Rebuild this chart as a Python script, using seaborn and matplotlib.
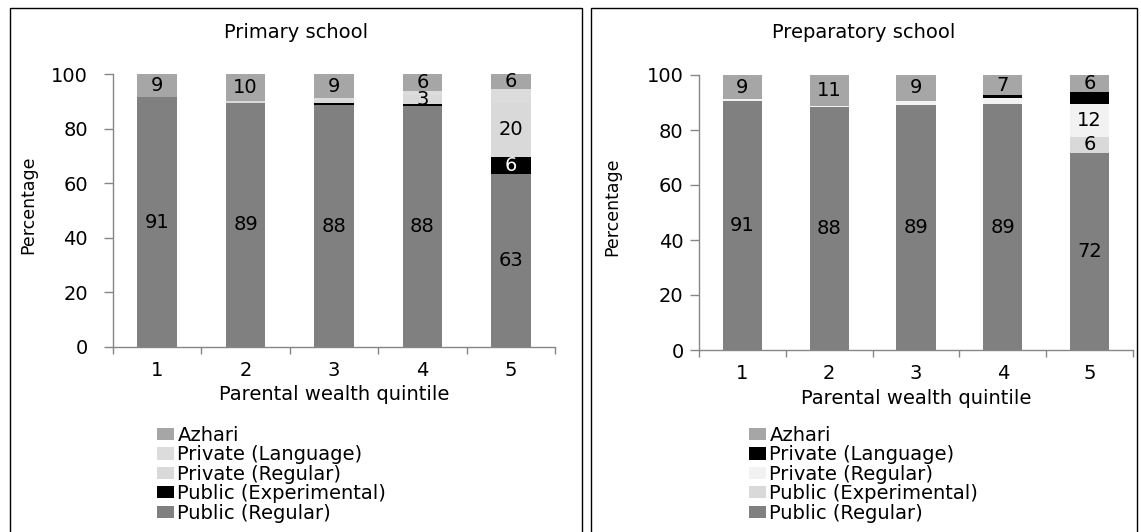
import matplotlib
matplotlib.use('Agg')
import numpy as np
import pandas as pd
import seaborn as sns
import matplotlib.pyplot as plt
from matplotlib.patches import Patch, Rectangle

## ---------------- data (percent) ----------------
quintiles = ['1', '2', '3', '4', '5']
series    = ['Public (Regular)', 'Public (Experimental)', 'Private (Regular)',
             'Private (Language)', 'Azhari']          # bottom -> top

prim_public_reg  = [91.4, 89.4, 88.5, 88.2, 63.3]
prim_public_exp  = [0.0, 0.0, 0.8, 0.9, 6.2]
prim_private_reg = [0.0, 0.6, 1.0, 3.2, 20.0]
prim_private_lan = [0.0, 0.0, 0.8, 1.6, 4.9]
prim_azhari      = [8.6, 10.0, 8.9, 6.1, 5.6]

prep_public_reg  = [90.6, 88.3, 89.1, 89.4, 71.8]
prep_public_exp  = [0.0, 0.0, 0.0, 0.0, 5.7]
prep_private_reg = [0.5, 0.5, 1.5, 2.2, 12.1]
prep_private_lan = [0.0, 0.0, 0.0, 1.1, 4.3]
prep_azhari      = [8.9, 11.2, 9.4, 7.3, 6.1]

prim_colors = ['#808080', '#000000', '#d9d9d9', '#dcdcdc', '#a6a6a6']
prep_colors = ['#808080', '#d9d9d9', '#f2f2f2', '#000000', '#a6a6a6']
no_label    = 'Private (Language)'

sns.set_style('white')
plt.rcParams['font.family'] = ['DejaVu Sans']
plt.rcParams['text.color'] = 'black'
plt.rcParams['xtick.labelcolor'] = 'black'
plt.rcParams['ytick.labelcolor'] = 'black'

W, H = 1141, 532
fig = plt.figure(figsize=(W/100, H/100), dpi=100)

def fx(px): return px / W
def fy(py): return 1 - py / H

def draw_panel(ax, title, vals, colors, box, ypad, xl_y, yl_x, leg_x):
  df = pd.DataFrame({'quintile': np.repeat(quintiles, len(series)),
                     'series': series * len(quintiles),
                     'value': np.array(vals).T.ravel()})
  df['series'] = pd.Categorical(df['series'], series, ordered=True)
  df = df.sort_values(['quintile', 'series'])
  df['cum'] = df.groupby('quintile')['value'].cumsum()

  ## overlay cumulative bars, top series first
  for s, c in reversed(list(zip(series, colors))):
    sub = df[df['series'] == s]
    sns.barplot(data=sub, x='quintile', y='cum', order=quintiles, color=c,
                saturation=1, width=0.45, errorbar=None, ax=ax, linewidth=0)

  ## data labels
  for _, r in df.iterrows():
    if r['series'] == no_label or r['value'] < 2.5:
      continue
    i = quintiles.index(r['quintile'])
    c = colors[series.index(r['series'])]
    ax.text(i, r['cum'] - r['value']/2, '{0:.0f}'.format(r['value']),
            ha='center', va='center', fontsize=14,
            color='white' if c == '#000000' else 'black')

  ax.set_ylim(0, 100)
  ax.set_xlim(-0.5, 4.5)
  ax.set_yticks(range(0, 101, 20))
  ax.set_xticks(range(5))
  ax.set_xticks(np.arange(-0.5, 5, 1), minor=True)
  ax.set_xticklabels(quintiles)
  ax.tick_params(axis='x', which='major', length=0, pad=10, labelsize=14)
  ax.tick_params(axis='x', which='minor', length=5, width=1, color='#868686',
                 direction='out', bottom=True)
  ax.tick_params(axis='y', length=6.5, width=1, color='#868686', direction='out',
                 left=True, pad=ypad, labelsize=14)
  for s in ['top', 'right']:
    ax.spines[s].set_visible(False)
  for s in ['left', 'bottom']:
    ax.spines[s].set_color('#868686')
    ax.spines[s].set_linewidth(1)
  ax.set_xlabel('')
  ax.set_ylabel('')

  pos = ax.get_position()
  cx = pos.x0 + pos.width/2
  fig.text(fx((box[0] + box[1])/2), fy(32), title, ha='center', va='center',
           fontsize=14)
  fig.text(cx, fy(xl_y), 'Parental wealth quintile', ha='center', va='center',
           fontsize=14)
  fig.text(fx(yl_x), (pos.y0 + pos.y1)/2 + 0.01, 'Percentage', rotation=90,
           ha='center', va='center', fontsize=12.5)

  fig.add_artist(Rectangle((fx(box[0]), -0.01), fx(box[1] - box[0]),
                           fy(8) + 0.01, transform=fig.transFigure,
                           fill=False, edgecolor='black', lw=1))

  handles = [Patch(facecolor=c, edgecolor='none', label=s)
             for s, c in reversed(list(zip(series, colors)))]
  fig.legend(handles=handles, loc='upper left',
             bbox_to_anchor=(fx(leg_x), fy(426)), frameon=False, fontsize=14,
             handlelength=0.85, handleheight=0.6, handletextpad=0.2,
             labelspacing=0.02, borderpad=0, borderaxespad=0)

ax1 = fig.add_axes([fx(113), fy(347), fx(555 - 113), (347 - 74)/H])
ax2 = fig.add_axes([fx(699), fy(350), fx(1133 - 699), (350 - 75)/H])

draw_panel(ax1, 'Primary school',
           [prim_public_reg, prim_public_exp, prim_private_reg,
            prim_private_lan, prim_azhari],
           prim_colors, (10, 582), 11.5, 394, 28, 157)
draw_panel(ax2, 'Preparatory school',
           [prep_public_reg, prep_public_exp, prep_private_reg,
            prep_private_lan, prep_azhari],
           prep_colors, (591, 1137), 4.5, 398, 612, 749)

plt.savefig('out.png', dpi=100)
